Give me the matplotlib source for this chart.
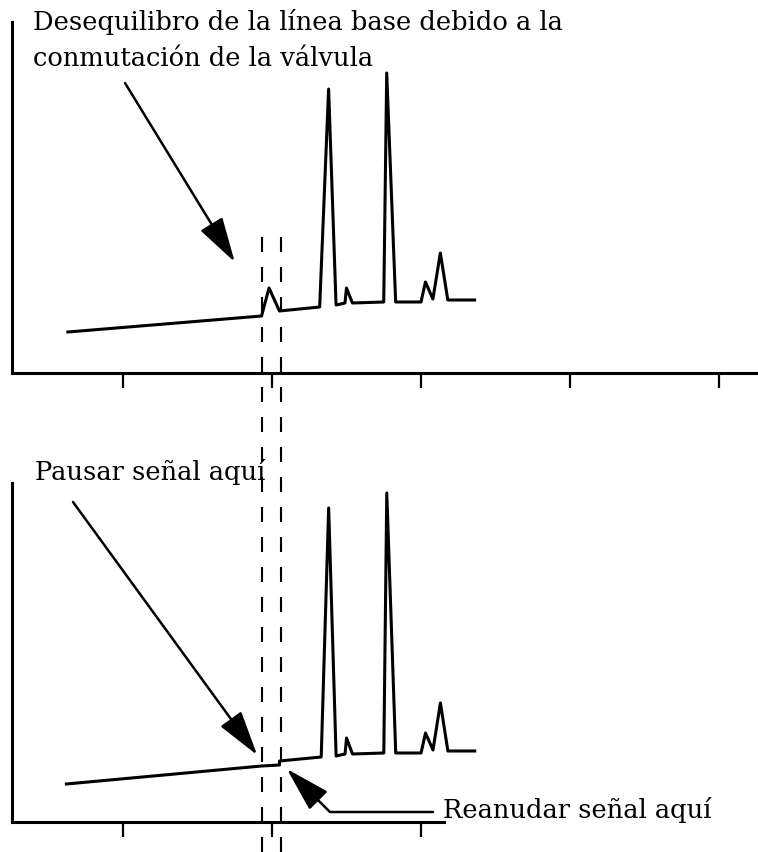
import matplotlib
matplotlib.use("Agg")
import matplotlib.pyplot as plt
import matplotlib.transforms as mtransforms

# run time (min) and detector signal
time_top = [0.63, 1.93, 1.98, 2.05, 2.32, 2.38, 2.43, 2.49, 2.50, 2.54,
            2.75, 2.77, 2.83, 3.00, 3.03, 3.08, 3.13, 3.18, 3.36]
signal_top = [4.1, 5.7, 8.5, 6.2, 6.6, 28.4, 6.8, 7.0, 8.5, 7.0,
              7.1, 30.0, 7.1, 7.1, 9.1, 7.4, 12.0, 7.3, 7.3]

time_bottom = [0.62, 1.93, 2.05, 2.05, 2.33, 2.38, 2.43, 2.49, 2.50, 2.54,
               2.75, 2.77, 2.83, 3.00, 3.03, 3.08, 3.13, 3.18, 3.36]
signal_bottom = [3.8, 5.6, 5.7, 6.1, 6.5, 31.4, 6.6, 6.8, 8.4, 6.8,
                 6.9, 32.9, 6.9, 6.9, 8.9, 7.2, 11.9, 7.1, 7.1]

valve_times = [1.93, 2.06]
ticks_top = [1, 2, 3, 4, 5]
ticks_bottom = [1, 2, 3]

label_top = ["Desequilibro de la línea base debido a la",
             "conmutación de la válvula"]
label_pause = "Pausar señal aquí"
label_resume = "Reanudar señal aquí"

W, H = 758, 852


def fig_px(x, y):
    # pixel position (from top-left) -> figure fraction
    return (x / W, 1 - y / H)


fig = plt.figure(figsize=(W / 100, H / 100), dpi=100)

ax_top = fig.add_axes([12 / W, 1 - 373 / H, (758 - 12) / W, (373 - 22) / H])
ax_bot = fig.add_axes([12 / W, 1 - 822 / H, (444 - 12) / W, (822 - 483) / H])

for ax, t, s, ticks, xmax, ymax in [
    (ax_top, time_top, signal_top, ticks_top, 5.262, 35.1),
    (ax_bot, time_bottom, signal_bottom, ticks_bottom, 3.154, 33.9),
]:
    ax.plot(t, s, color="black", lw=2.2, solid_joinstyle="round", clip_on=False)
    ax.set_xlim(0.255, xmax)
    ax.set_ylim(0, ymax)
    for side in ["top", "right"]:
        ax.spines[side].set_visible(False)
    for side in ["left", "bottom"]:
        ax.spines[side].set_linewidth(2.2)
    ax.set_xticks(ticks)
    ax.set_xticklabels([])
    ax.set_yticks([])
    ax.tick_params(axis="x", direction="out", length=11, width=1.6)
    ax.patch.set_visible(False)

# dashed lines marking the valve switch, running through both panels
trans = mtransforms.blended_transform_factory(ax_top.transData, fig.transFigure)
for vt in valve_times:
    fig.add_artist(plt.Line2D([vt, vt], [0, 1 - 232 / H], transform=trans,
                              color="black", lw=1.5, ls=(0, (7.2, 7.2))))

font = dict(family="DejaVu Serif", size=18.5, color="black")
fig.text(*fig_px(33, 30), label_top[0], va="baseline", ha="left", **font)
fig.text(*fig_px(33, 66), label_top[1], va="baseline", ha="left", **font)
fig.text(*fig_px(35, 480), label_pause, va="baseline", ha="left", **font)
fig.text(*fig_px(443, 818), label_resume, va="baseline", ha="left", **font)

arrow = dict(arrowstyle="-|>,head_length=2.8,head_width=0.8", mutation_scale=10,
             lw=1.8, color="black", shrinkA=0, shrinkB=0)

ax_top.annotate("", xy=(1.75, 11.1), xytext=fig_px(125, 83),
                textcoords="figure fraction", arrowprops=arrow,
                annotation_clip=False)
ax_bot.annotate("", xy=(1.90, 6.7), xytext=fig_px(73, 502),
                textcoords="figure fraction", arrowprops=arrow,
                annotation_clip=False)
ax_bot.annotate("", xy=(2.10, 5.3), xytext=fig_px(433, 812),
                textcoords="figure fraction",
                arrowprops=dict(arrow, connectionstyle="angle,angleA=0,angleB=135,rad=0"),
                annotation_clip=False)

fig.savefig("out.png", dpi=100)
